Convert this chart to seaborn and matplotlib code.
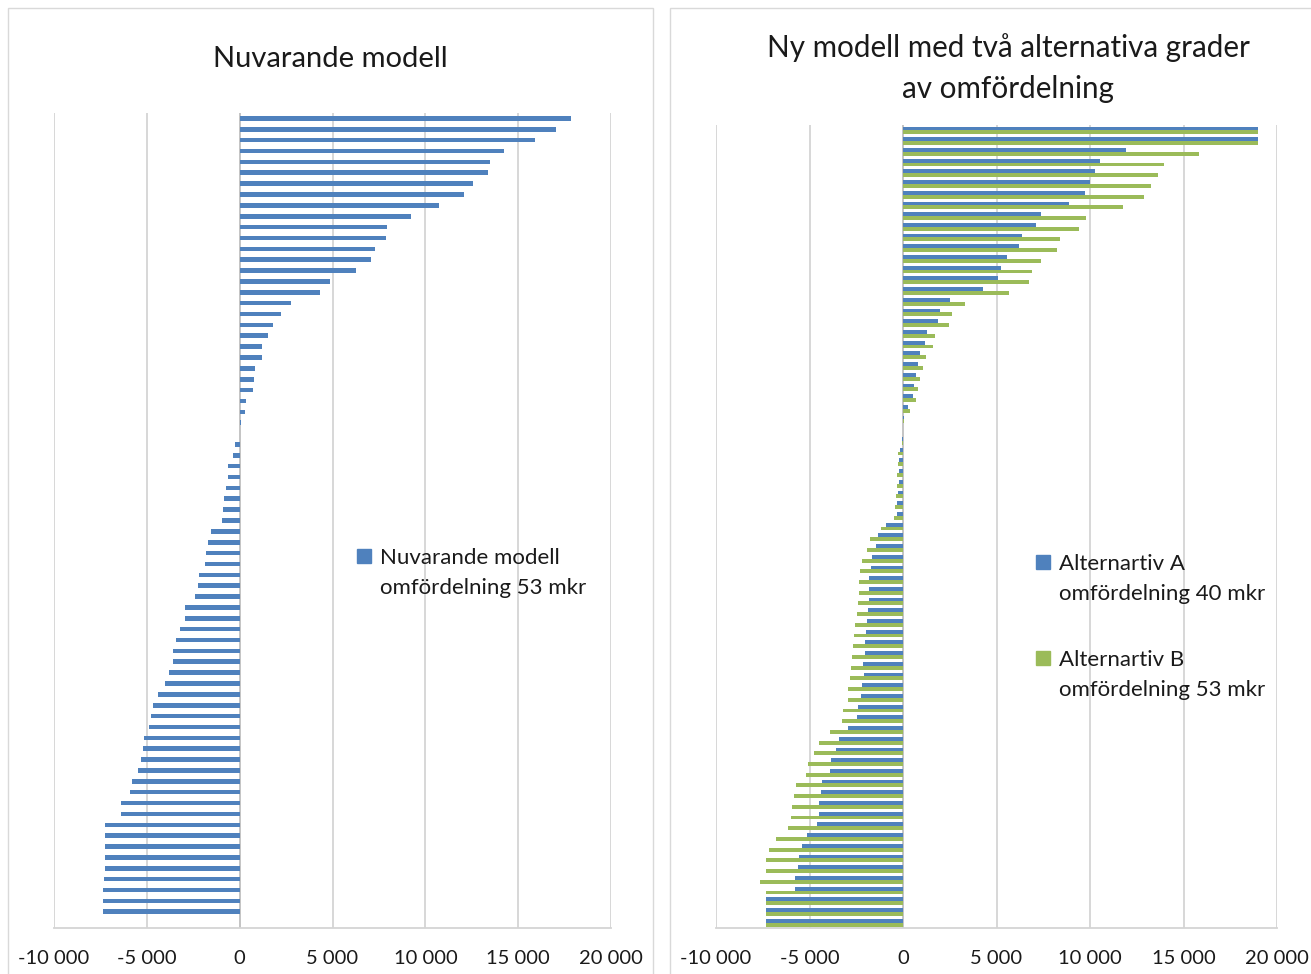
import matplotlib
matplotlib.use("Agg")
import matplotlib.pyplot as plt
from matplotlib.patches import Patch, Rectangle
import seaborn as sns
import pandas as pd

# one row per kommun, sorted as in the original charts
kommun = [str(i) for i in range(1, 76)]

nuvarande = [17850, 17020, 15930, 14240, 13470, 13380, 12590, 12090, 10740, 9200,
             7930, 7860, 7300, 7080, 6260, 4860, 4340, 2760, 2210, 1810,
             1540, 1200, 1200, 820, 750, 720, 340, 300, 50, 0,
             -270, -360, -630, -630, -735, -840, -880, -950, -1540, -1700,
             -1810, -1850, -2190, -2260, -2400, -2960, -2960, -3190, -3410, -3590,
             -3590, -3820, -4035, -4410, -4645, -4750, -4860, -5130, -5220, -5340,
             -5500, -5775, -5900, -6370, -6370, -7230, -7230, -7230, -7270, -7270,
             -7320, -7350, -7350, -7350, 0]

altA = [18970, 18970, 11930, 10520, 10290, 9990, 9740, 8880, 7400, 7115,
        6350, 6225, 5545, 5225, 5100, 4280, 2515, 2000, 1870, 1285,
        1195, 927, 785, 680, 590, 517, 285, 30, 0, -50,
        -180, -200, -230, -230, -285, -300, -300, -890, -1340, -1440,
        -1660, -1730, -1800, -1800, -1840, -1870, -1940, -1980, -2015, -2050,
        -2120, -2100, -2210, -2250, -2410, -2480, -2960, -3405, -3585, -3835,
        -3925, -4335, -4405, -4475, -4510, -4620, -5155, -5405, -5545, -5620,
        -5780, -5780, -7330, -7330, -7330]

altB = [18970, 18970, 15800, 13930, 13620, 13250, 12860, 11740, 9810, 9435,
        8400, 8240, 7365, 6920, 6740, 5650, 3317, 2620, 2480, 1730,
        1590, 1250, 1070, 910, 800, 695, 375, 40, 0, -80,
        -250, -270, -300, -340, -390, -445, -460, -1180, -1780, -1925,
        -2190, -2300, -2370, -2370, -2410, -2480, -2590, -2620, -2660, -2710,
        -2780, -2820, -2925, -2960, -3190, -3265, -3905, -4510, -4745, -5065,
        -5210, -5740, -5850, -5955, -5990, -6135, -6795, -7150, -7330, -7330,
        -7630, -7330, -7330, -7330, -7330]

xTicks = [-10000, -5000, 0, 5000, 10000, 15000, 20000]
xTickLabels = ['-10 000', '-5 000', '0', '5 000', '10 000', '15 000', '20 000']

blue = '#4F81BD'
green = '#9BBB59'
gridGray = '#d4d4d4'

sns.set_style('white')
plt.rcParams['font.family'] = ['Lato', 'DejaVu Sans']
plt.rcParams['text.color'] = '#1a1a1a'

fig = plt.figure(figsize=(13.11, 9.74), dpi=100)
axL = fig.add_axes([0.0412, 0.0472, 0.4249, 0.8368])
axR = fig.add_axes([0.5462, 0.0472, 0.4279, 0.8244])

dfL = pd.DataFrame({'kommun': kommun, 'varde': nuvarande})
sns.barplot(data=dfL, x='varde', y='kommun', orient='h', color=blue,
            width=0.42, saturation=1, errorbar=None, linewidth=0, ax=axL)

dfR = pd.DataFrame({'kommun': kommun * 2,
                    'varde': altA + altB,
                    'serie': ['A'] * len(altA) + ['B'] * len(altB)})
sns.barplot(data=dfR, x='varde', y='kommun', hue='serie', orient='h',
            palette=[blue, green], width=0.72, saturation=1, errorbar=None,
            linewidth=0, legend=False, ax=axR)

for ax in (axL, axR):
    ax.set_xlim(-10000, 20000)
    ax.set_xticks(xTicks)
    ax.set_xticklabels(xTickLabels, fontsize=14.5, color='#1a1a1a')
    ax.set_yticks([])
    ax.set_xlabel('')
    ax.set_ylabel('')
    ax.grid(axis='x', color=gridGray, lw=1.3)
    ax.set_axisbelow(True)
    ax.axvline(0, color='#c4c4c4', lw=1.3, zorder=0.6)
    for s in ['top', 'right', 'left']:
        ax.spines[s].set_visible(False)
    ax.spines['bottom'].set_color(gridGray)
    ax.spines['bottom'].set_linewidth(1.3)
    ax.tick_params(axis='x', length=5, width=1.3, color=gridGray, pad=11)

# titles
fig.text(330 / 1311, 1 - 59 / 974, 'Nuvarande modell', ha='center', va='center', fontsize=21)
fig.text(1008 / 1311, 1 - 68 / 974, 'Ny modell med två alternativa grader\nav omfördelning',
         ha='center', va='center', fontsize=21.3, linespacing=1.55)

# legends (first line next to the square, like in Excel)
legKw = dict(loc='upper left', bbox_transform=fig.transFigure, frameon=False, fontsize=16,
             handlelength=0.62, handleheight=0.62, handletextpad=0.4,
             labelspacing=0.45, borderpad=0, borderaxespad=0)
axL.legend(handles=[Patch(color=blue), Patch(visible=False)],
           labels=['Nuvarande modell', 'omfördelning 53 mkr'],
           bbox_to_anchor=(357 / 1311, 1 - 548 / 974), **legKw)
legA = axR.legend(handles=[Patch(color=blue), Patch(visible=False)],
                  labels=['Alternartiv A', 'omfördelning 40 mkr'],
                  bbox_to_anchor=(1036 / 1311, 1 - 554 / 974), **legKw)
axR.add_artist(legA)
axR.legend(handles=[Patch(color=green), Patch(visible=False)],
           labels=['Alternartiv B', 'omfördelning 53 mkr'],
           bbox_to_anchor=(1036 / 1311, 1 - 650 / 974), **legKw)

# chart borders
fig.add_artist(Rectangle((8 / 1311, -0.01), 645 / 1311, 1.01 - 8 / 974,
                         transform=fig.transFigure, fill=False, edgecolor='#d9d9d9', lw=1))
fig.add_artist(Rectangle((670 / 1311, -0.01), 0.5, 1.01 - 8 / 974,
                         transform=fig.transFigure, fill=False, edgecolor='#d9d9d9', lw=1))

fig.savefig('out.png', dpi=100)
